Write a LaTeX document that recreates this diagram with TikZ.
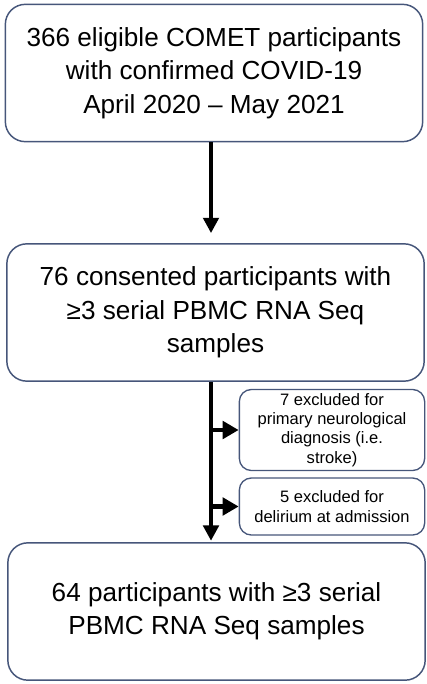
\documentclass[tikz,border=0pt]{standalone}
\usepackage{fontspec}
\setmainfont{Liberation Sans}
\usepackage{tikz}
\usetikzlibrary{arrows.meta, positioning}

\definecolor{boxline}{RGB}{70,86,122}

\begin{document}
\begin{tikzpicture}[x=0.75pt, y=-0.75pt,
            stage_box/.style={rectangle, rounded corners=15pt, draw=boxline, line width=1.1pt,
            minimum width=313pt, minimum height=103pt, align=center, inner sep=0pt,
            font=\fontsize{19.6}{25}\selectfont},
            excl_box/.style={rectangle, rounded corners=9pt, draw=boxline, line width=1pt,
            minimum width=139pt, align=center, inner sep=0pt,
            font=\fontsize{12.4}{14.5}\selectfont},
            flow/.style={-{Triangle[width=11.5pt, length=11.5pt]}, line width=3.2pt, black},
            branch/.style={-{Triangle[width=13pt, length=12pt]}, line width=3.2pt, black}
        ]

            % Canvas
            \useasboundingbox (0,0) rectangle (426,684);

            % Main stages (single column)
            \node[stage_box] (cohort) at (214, 73)
                {366 eligible COMET participants\\with confirmed COVID-19\\April 2020 – May 2021};
            \node[stage_box] (consent) at (215.5, 312.5)
                {76 consented participants with\\≥3 serial PBMC RNA Seq\\samples};
            \node[stage_box] (final) at (216.5, 611.5)
                {64 participants with ≥3 serial\\PBMC RNA Seq samples};

            % Exclusions (right side)
            \node[excl_box, minimum height=60.75pt] (excl_neuro) at (332, 430)
                {7 excluded for\\primary neurological\\diagnosis (i.e.\\stroke)};
            \node[excl_box, minimum height=42.75pt] (excl_delir) at (332, 506.5)
                {5 excluded for\\delirium at admission};

            % Spine of the flow
            \coordinate (spine) at (211, 0);

            \draw[flow, shorten >=7.5pt] (cohort.south -| spine) -- (consent.north -| spine);
            \draw[flow, shorten >=1pt] (consent.south -| spine) -- (final.north -| spine);

            % Branches to exclusions
            \foreach \n in {excl_neuro, excl_delir} {
                \draw[branch] (spine |- \n.west) -- (\n.west);
            }

        \end{tikzpicture}
\end{document}
